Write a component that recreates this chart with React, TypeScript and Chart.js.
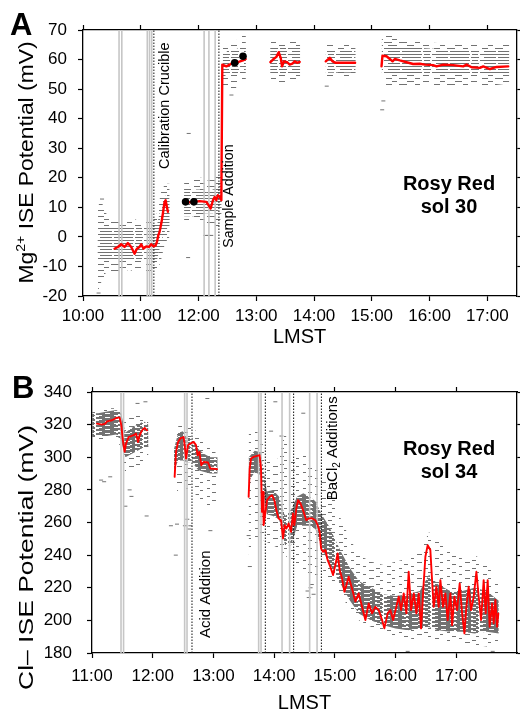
import React, { useEffect, useRef } from 'react';
import { Chart, registerables } from 'chart.js';

Chart.register(...registerables);

const FONT = '"Liberation Sans", Arial, Helvetica, sans-serif';
const X_TITLE = 'LMST';

// ================= Panel A : Mg2+ ISE, Rosy Red sol 30 =================
const A_X_TICKS = [10, 11, 12, 13, 14, 15, 16, 17];
const A_X_LABELS = ['10:00', '11:00', '12:00', '13:00', '14:00', '15:00', '16:00', '17:00'];
const A_Y_TICKS = [-20, -10, 0, 10, 20, 30, 40, 50, 60, 70];

// smoothed signal (red), [LMST hours, mV], null = gap
const A_RED: ([number, number] | null)[] = [
  [10.546, -4.0], [10.603, -3.4], [10.662, -2.5], [10.719, -3.4], [10.777, -2.1], [10.835, -3.4],
  [10.893, -5.7], [10.933, -4.0], [10.979, -3.4], [11.008, -2.5], [11.048, -4.0], [11.095, -3.2],
  [11.141, -3.4], [11.181, -2.5], [11.222, -3.2], [11.257, -2.9], [11.28, -1.7], [11.303, 0.5],
  [11.326, 1.7], [11.355, 4.5], [11.383, 7.9], [11.412, 11.8], [11.43, 12.4], [11.452, 10.2], [11.47, 8.5],
  null,
  [11.776, 11.85], [11.85, 11.7], [11.92, 11.85], [12.019, 12.1], [12.135, 11.85], [12.21, 9.6],
  [12.25, 12.4], [12.279, 13.5], [12.308, 12.4], [12.336, 14.1], [12.366, 13.5], [12.395, 12.4],
  [12.412, 58.3], [12.482, 57.7], [12.539, 58.3], [12.597, 58.9], [12.683, 59.1], [12.77, 59.7], [12.816, 60.2],
  null,
  [13.244, 59.1], [13.29, 60.0], [13.348, 60.9], [13.388, 62.5], [13.423, 60.6], [13.446, 57.7],
  [13.48, 59.4], [13.533, 59.1], [13.579, 58.3], [13.625, 58.6], [13.665, 59.4], [13.705, 58.9], [13.752, 59.2],
  null,
  [14.203, 59.4], [14.272, 60.6], [14.319, 59.4], [14.376, 58.9], [14.503, 58.9], [14.711, 58.9],
  null,
  [15.168, 57.7], [15.185, 61.3], [15.255, 61.1], [15.312, 60.2], [15.359, 59.4], [15.399, 60.2],
  [15.485, 59.7], [15.601, 59.1], [15.716, 58.5], [15.832, 58.6], [15.919, 58.3], [16.062, 58.1],
  [16.121, 57.7], [16.236, 58.3], [16.409, 58.1], [16.582, 57.7], [16.641, 58.3], [16.728, 57.4],
  [16.872, 57.2], [16.929, 57.7], [17.045, 56.8], [17.161, 57.5], [17.362, 57.7],
];

// black calibration points
const A_DOTS: [number, number][] = [[11.776, 11.85], [11.92, 11.85], [12.626, 58.9], [12.77, 61.1]];

// raw readings envelope: [t, outerLow, coreLow, coreHigh, outerHigh], null = gap
const A_CLOUD: (number[] | null)[] = [
  [10.25, -19, -6, 0, 9], [10.30, -16, -8, 3, 13], [10.40, -12, -8, 3.5, 8], [10.50, -12, -8, 3.5, 6],
  [10.60, -12, -8, 3.5, 6], [10.70, -12, -8, 3.5, 5], [10.80, -11, -8, 3.5, 6], [10.90, -12, -8, 3, 6],
  [11.00, -12, -8, 3, 5], [11.10, -12, -8, 3, 5], [11.20, -12, -8, 3, 5], [11.28, -12, -8, 4, 8],
  [11.35, -8, -2, 10, 15], [11.42, -2, 2, 14, 18], [11.50, 0, 4, 13, 18],
  null,
  [11.75, 5, 7, 16, 19], [11.85, 5, 7, 17, 20], [11.95, 5, 7, 16, 20], [12.05, 5, 8, 16, 20],
  [12.15, 4, 8, 15, 19], [12.25, 3, 8, 16, 20], [12.35, 3, 9, 17, 22], [12.40, 8, 10, 18, 22],
  null,
  [12.42, 50, 54, 61, 64], [12.50, 50, 55, 63, 65], [12.60, 49, 55, 63, 66], [12.70, 52, 55, 64, 67], [12.82, 52, 56, 64, 69],
  null,
  [13.24, 53, 55, 64, 66], [13.50, 52, 55, 64, 66], [13.76, 53, 55, 64, 66],
  null,
  [14.20, 54, 55.5, 63.5, 65], [14.46, 54, 55.5, 63.5, 65], [14.72, 54, 55.5, 63.5, 65],
  null,
  [15.17, 50, 55, 67, 69.5], [15.30, 51, 55, 66, 69], [15.50, 51, 55, 64, 66.5], [15.80, 51, 55, 64, 66],
  [16.20, 51, 55, 63.5, 65.5], [16.60, 51, 55, 63.5, 65.5], [17.00, 51, 55, 63.5, 65.5], [17.38, 52, 55, 63.5, 65],
];

// isolated raw readings
const A_STRAYS: [number, number][] = [
  [11.83, 35], [11.82, -7], [12.12, 0.5], [12.17, 0.5], [12.22, 0.5], [12.57, 48], [14.22, 51],
  [15.18, 43], [15.2, 46], [10.27, -19], [10.33, 12.8],
];

const A_GRAY_LINES = [10.624, 10.672, 11.113, 11.152, 11.19, 12.097, 12.18, 12.288];
const A_EVENT_LINES = [11.227, 12.353];
const A_EVENT_TEXT = ['Calibration Crucible', 'Sample Addition'];
const A_EVENT_MV = [44.4, 13.8];
const A_SITE = ['Rosy Red', 'sol 30'];

// ================= Panel B : Cl- ISE, Rosy Red sol 34 =================
const B_X_TICKS = [11, 12, 13, 14, 15, 16, 17];
const B_X_LABELS = ['11:00', '12:00', '13:00', '14:00', '15:00', '16:00', '17:00'];
const B_Y_TICKS = [180, 200, 220, 240, 260, 280, 300, 320, 340];

const B_RED: ([number, number] | null)[] = [
  [11.082, 320.6], [11.165, 320], [11.219, 320.6], [11.247, 322], [11.33, 322.7], [11.412, 324.3],
  [11.455, 324.3], [11.483, 319.6], [11.505, 311.5], [11.537, 303.3], [11.56, 308.4], [11.603, 312.4],
  [11.685, 313.5], [11.725, 314.5], [11.758, 309.4], [11.784, 313.5], [11.824, 316.5], [11.867, 318], [11.906, 316.5],
  null,
  [12.361, 288], [12.384, 303.3], [12.417, 309.4], [12.455, 311.5], [12.509, 312.4], [12.526, 307.4],
  [12.549, 299.2], [12.582, 307.4], [12.619, 308.4], [12.674, 309.4], [12.713, 307.4], [12.74, 301.2],
  [12.768, 303.3], [12.801, 295.1], [12.839, 297.1], [12.911, 296.8], [12.949, 293.1], [13.059, 292.7],
  null,
  [13.58, 275.7], [13.597, 293.1], [13.62, 299.2], [13.662, 300.2], [13.718, 300.8], [13.761, 301.2],
  [13.784, 293.1], [13.8, 266.5], [13.817, 278.8], [13.827, 258.4], [13.85, 264.5], [13.883, 273.7],
  [13.926, 275.7], [13.965, 276.7], [14.003, 273.7], [14.036, 267.6], [14.074, 262.5], [14.114, 261.4],
  [14.147, 250.2], [14.173, 258.4], [14.201, 256.3], [14.239, 259.4], [14.278, 254.3], [14.311, 265.5],
  [14.333, 258.4], [14.366, 268.6], [14.394, 273.7], [14.432, 271.7], [14.476, 267.6], [14.53, 261.4],
  [14.568, 262.5], [14.624, 262.5], [14.679, 261.4], [14.717, 258.4], [14.75, 254.3], [14.773, 244.1],
  [14.806, 242], [14.844, 243.1], [14.882, 236.9], [14.926, 232.8], [14.97, 227.8], [15.008, 233.9],
  [15.046, 241], [15.079, 230.8], [15.119, 225.7], [15.157, 217.5], [15.19, 221.6], [15.227, 226.8],
  [15.283, 219.6], [15.338, 211.5], [15.392, 216.5], [15.448, 208.3], [15.503, 200.2], [15.557, 210.4],
  [15.613, 204.3], [15.667, 208.3], [15.722, 206.3], [15.778, 200.2], [15.815, 195.1], [15.87, 204.3],
  [15.914, 206.3], [15.959, 200.2], [16.013, 208.3], [16.051, 214.5], [16.091, 206.3], [16.134, 216.5],
  [16.178, 204.3], [16.216, 229.8], [16.256, 206.3], [16.3, 216.5], [16.343, 204.3], [16.381, 216.5],
  [16.42, 195.1], [16.463, 222.7], [16.491, 239], [16.529, 246.1], [16.573, 243.1], [16.601, 224.7],
  [16.628, 208.3], [16.672, 220.6], [16.71, 208.3], [16.738, 224.7], [16.782, 208.3], [16.82, 216.5],
  [16.858, 200.2], [16.903, 216.5], [16.931, 197.1], [16.969, 214.5], [17.013, 206.3], [17.056, 222.7],
  [17.096, 204.3], [17.134, 192], [17.166, 208.3], [17.204, 220.6], [17.244, 206.3], [17.287, 214.5],
  [17.331, 229.8], [17.369, 214.5], [17.409, 200.2], [17.451, 224.7], [17.484, 204.3], [17.517, 224.7],
  [17.55, 196.1], [17.59, 210.4], [17.616, 198.2], [17.644, 212.5], [17.672, 196.1], [17.693, 204.3],
];

const B_CLOUD: (number[] | null)[] = [
  [11.00, 310, 313, 327, 329], [11.10, 309, 313, 327, 328], [11.25, 310, 313, 328, 330], [11.40, 312, 314, 329, 330],
  [11.48, 305, 310, 327, 329], [11.55, 290, 300, 315, 322], [11.65, 292, 302, 318, 325], [11.75, 295, 304, 320, 326],
  [11.85, 295, 306, 322, 326], [11.93, 298, 306, 320, 324],
  null,
  [12.35, 275, 292, 305, 312], [12.42, 280, 298, 315, 319], [12.50, 285, 298, 316, 320], [12.56, 280, 297, 312, 318],
  [12.65, 280, 297, 312, 318], [12.75, 275, 292, 305, 315], [12.85, 270, 291, 302, 310], [12.95, 268, 290, 300, 305],
  [13.07, 275, 290, 300, 302],
  null,
  [13.58, 240, 285, 300, 316], [13.68, 250, 291, 304, 318], [13.78, 250, 289, 303, 312], [13.88, 248, 265, 279, 300],
  [13.98, 246, 264, 280, 296], [14.08, 244, 262, 276, 300], [14.18, 240, 246, 264, 316], [14.28, 236, 246, 268, 298],
  [14.38, 232, 258, 276, 300], [14.48, 230, 258, 278, 305], [14.58, 225, 258, 276, 296], [14.68, 225, 256, 273, 295],
  [14.78, 232, 245, 265, 290], [14.90, 226, 235, 258, 285], [15.00, 222, 228, 250, 278], [15.10, 216, 222, 242, 262],
  [15.25, 206, 212, 232, 250], [15.40, 200, 204, 224, 240], [15.60, 196, 200, 220, 236], [15.80, 192, 197, 216, 234],
  [16.00, 190, 195, 215, 236], [16.20, 189, 194, 216, 238], [16.40, 188, 195, 218, 242], [16.55, 189, 196, 228, 254],
  [16.70, 188, 194, 222, 250], [16.90, 187, 193, 218, 242], [17.10, 186, 193, 218, 238], [17.30, 185, 192, 220, 240],
  [17.50, 184, 193, 218, 236], [17.70, 183, 192, 212, 222],
];

const B_STRAYS: [number, number][] = [
  [11.15, 286], [11.2, 285], [11.3, 288], [11.62, 280], [11.65, 276], [11.55, 270], [11.9, 264], [11.88, 334],
  [11.75, 333], [12.6, 256], [12.57, 262], [12.9, 336], [12.4, 259], [12.95, 255], [12.53, 258], [12.62, 258],
  [13.6, 233], [13.58, 252], [14.02, 334], [13.95, 316], [14.12, 313], [14.48, 327], [14.55, 218], [14.6, 220],
  [14.65, 216], [14.62, 222], [14.57, 214], [16.2, 181], [17.6, 181], [12.3, 258], [12.38, 240],
];

const B_GRAY_LINES = [11.478, 11.52, 12.526, 12.565, 13.745, 13.784, 14.13, 14.255, 14.585, 14.707];
const B_EVENT_LINES = [12.647, 13.855, 14.321, 14.778];
const B_SITE = ['Rosy Red', 'sol 34'];
const B_ACID_T = 12.647;
const B_ACID_MV = 216;
const B_BACL_T = 14.778;
const B_BACL_MV = 305.5;

// ======================================================================

type Part = { t: string; size: number; dy?: number; bold?: boolean };

function drawRotated(ctx: CanvasRenderingContext2D, parts: Part[], baseX: number, centerY: number, targetLen?: number) {
  ctx.save();
  ctx.translate(baseX, centerY);
  ctx.rotate(-Math.PI / 2);
  const widths = parts.map((p) => {
    ctx.font = `${p.bold ? 'bold ' : ''}${p.size}px ${FONT}`;
    return ctx.measureText(p.t).width;
  });
  const total = widths.reduce((a, b) => a + b, 0);
  if (targetLen) ctx.scale(targetLen / total, 1);
  ctx.textAlign = 'left';
  ctx.textBaseline = 'alphabetic';
  let x = -total / 2;
  parts.forEach((p, i) => {
    ctx.font = `${p.bold ? 'bold ' : ''}${p.size}px ${FONT}`;
    ctx.fillText(p.t, x, p.dy || 0);
    x += widths[i];
  });
  ctx.restore();
}

// texture tile: each row is [y, x0, len, x1, len, ...]
function makePattern(ctx: CanvasRenderingContext2D, w: number, h: number, rows: number[][], color: string) {
  const c = document.createElement('canvas');
  c.width = w;
  c.height = h;
  const g = c.getContext('2d')!;
  g.fillStyle = color;
  for (const r of rows) {
    const y = r[0];
    for (let i = 1; i + 1 < r.length; i += 2) {
      g.fillRect(r[i], y, r[i + 1], 1);
      g.fillRect(r[i] - w, y, r[i + 1], 1);
    }
  }
  return ctx.createPattern(c, 'repeat')!;
}

function splitRows<T>(rows: (T | null)[]): T[][] {
  const out: T[][] = [];
  let cur: T[] = [];
  for (const r of rows) {
    if (r === null) {
      if (cur.length) out.push(cur);
      cur = [];
    } else cur.push(r);
  }
  if (cur.length) out.push(cur);
  return out;
}

interface Panel {
  xMin: number; xMax: number; xTicks: number[]; xLabels: string[];
  yMin: number; yMax: number; yTicks: number[];
  red: ([number, number] | null)[]; redWidth: number;
  dots: [number, number][];
  cloud: (number[] | null)[];
  strays: [number, number][];
  grayLines: number[]; eventLines: number[];
  events: { parts: Part[]; t: number; v: number; dx: number }[];
  site: string[];
  leftW: number; topH: number; bottomH: number; rightW: number;
  yPad: number; xPad: number;
  letter: string; letterX: number; letterY: number;
  yTitle: Part[]; yTitleX: number; yTitleY: number; yTitleLen: number;
  xTitleY: number; siteX: number; siteY: number;
  corePat: number[][]; corePatSize: [number, number];
  outPat: number[][]; outPatSize: [number, number];
}

const PANEL_A: Panel = {
  xMin: 10, xMax: 17.5, xTicks: A_X_TICKS, xLabels: A_X_LABELS,
  yMin: -20, yMax: 70, yTicks: A_Y_TICKS,
  red: A_RED, redWidth: 2.4, dots: A_DOTS, cloud: A_CLOUD, strays: A_STRAYS,
  grayLines: A_GRAY_LINES, eventLines: A_EVENT_LINES,
  events: [
    { parts: [{ t: A_EVENT_TEXT[0], size: 14.5 }], t: A_EVENT_LINES[0], v: A_EVENT_MV[0], dx: 14.8 },
    { parts: [{ t: A_EVENT_TEXT[1], size: 14.2 }], t: A_EVENT_LINES[1], v: A_EVENT_MV[1], dx: 14.2 },
  ],
  site: A_SITE,
  leftW: 83, topH: 30, bottomH: 54, rightW: 3, yPad: 11, xPad: 5,
  letter: 'A', letterX: 10, letterY: 35,
  yTitle: [{ t: 'Mg', size: 21 }, { t: '2+', size: 13, dy: -8 }, { t: ' ISE Potential (mV)', size: 21 }],
  yTitleX: 33, yTitleY: 162.5, yTitleLen: 242,
  xTitleY: 343, siteX: 449, siteY: 190,
  corePat: [
    [0, 0, 21, 23, 15, 40, 6],
    [3, 4, 12, 18, 19, 39, 8],
  ],
  corePatSize: [48, 6],
  outPat: [
    [0, 2, 6, 15, 8, 31, 5],
    [3, 8, 5, 23, 7, 39, 6],
  ],
  outPatSize: [48, 6],
};

const PANEL_B: Panel = {
  xMin: 11, xMax: 18, xTicks: B_X_TICKS, xLabels: B_X_LABELS,
  yMin: 180, yMax: 340, yTicks: B_Y_TICKS,
  red: B_RED, redWidth: 1.9, dots: [], cloud: B_CLOUD, strays: B_STRAYS,
  grayLines: B_GRAY_LINES, eventLines: B_EVENT_LINES,
  events: [
    { parts: [{ t: 'Acid Addition', size: 15 }], t: B_ACID_T, v: B_ACID_MV, dx: 18.3 },
    { parts: [{ t: 'BaCl', size: 15 }, { t: '2', size: 10, dy: 3 }, { t: ' Additions', size: 15 }], t: B_BACL_T, v: B_BACL_MV, dx: 15.5 },
  ],
  site: B_SITE,
  leftW: 92, topH: 42, bottomH: 57, rightW: 3, yPad: 15, xPad: 8,
  letter: 'B', letterX: 12, letterY: 48,
  yTitle: [{ t: 'Cl\u2013 ISE Potential (mV)', size: 21 }],
  yTitleX: 33.3, yTitleY: 207.5, yTitleLen: 265,
  xTitleY: 359, siteX: 449, siteY: 105,
  corePat: [
    [0, 0, 22, 24, 15, 41, 5],
    [1, 6, 12, 25, 14, 44, 3],
    [2, 3, 17, 22, 12, 36, 10],
    [3, 0, 9, 14, 14, 34, 10],
  ],
  corePatSize: [48, 4],
  outPat: [
    [0, 3, 4, 27, 3],
    [2, 15, 3, 40, 4],
    [4, 8, 3, 33, 5],
    [6, 20, 4, 44, 3],
  ],
  outPatSize: [48, 8],
};

function buildConfig(p: Panel, ctx: CanvasRenderingContext2D): any {
  const GRAY = '#727272';
  const corePattern = makePattern(ctx, p.corePatSize[0], p.corePatSize[1], p.corePat, GRAY);
  const outPattern = makePattern(ctx, p.outPatSize[0], p.outPatSize[1], p.outPat, GRAY);
  const datasets: any[] = [];
  const base = { pointRadius: 0, pointHoverRadius: 0, tension: 0, fill: false };

  if (p.dots.length) {
    datasets.push({
      ...base, data: p.dots.map(([x, y]) => ({ x, y })), showLine: false,
      pointRadius: 3.8, pointBackgroundColor: '#000', pointBorderColor: '#000', pointBorderWidth: 0,
    });
  }
  for (const seg of splitRows(p.red)) {
    datasets.push({
      ...base, data: seg.map(([x, y]) => ({ x, y })), borderColor: '#ff0000', borderWidth: p.redWidth,
      borderJoinStyle: 'round', borderCapStyle: 'round',
    });
  }
  for (const t of p.eventLines) {
    datasets.push({
      ...base, data: [{ x: t, y: p.yMin }, { x: t, y: p.yMax }], borderColor: '#111', borderWidth: 1, borderDash: [1.5, 1.5],
    });
  }
  for (const t of p.grayLines) {
    datasets.push({
      ...base, data: [{ x: t, y: p.yMin }, { x: t, y: p.yMax }], borderColor: '#c6c6c6', borderWidth: 1.6,
    });
  }
  datasets.push({
    ...base, data: p.strays.map(([x, y]) => ({ x, y })), showLine: false,
    pointStyle: 'line', pointRadius: 2, pointBorderColor: GRAY, pointBorderWidth: 1,
  });
  const segs = splitRows(p.cloud);
  for (const seg of segs) {
    datasets.push({ ...base, data: seg.map((r) => ({ x: r[0], y: r[2] })), borderWidth: 0, borderColor: 'transparent' });
    datasets.push({ ...base, data: seg.map((r) => ({ x: r[0], y: r[3] })), borderWidth: 0, borderColor: 'transparent', fill: '-1', backgroundColor: corePattern });
  }
  for (const seg of segs) {
    datasets.push({ ...base, data: seg.map((r) => ({ x: r[0], y: r[1] })), borderWidth: 0, borderColor: 'transparent' });
    datasets.push({ ...base, data: seg.map((r) => ({ x: r[0], y: r[4] })), borderWidth: 0, borderColor: 'transparent', fill: '-1', backgroundColor: outPattern });
  }

  const grid = { drawOnChartArea: false, drawTicks: true, tickLength: 5, color: '#000', tickWidth: 1.2 };
  const border = { display: true, color: '#000', width: 1.3 };
  const xTicksBuild = (s: any) => { s.ticks = p.xTicks.map((v) => ({ value: v })); };
  const yTicksBuild = (s: any) => { s.ticks = p.yTicks.map((v) => ({ value: v })); };

  const textPlugin = {
    id: 'panelText' + p.letter,
    afterDraw(chart: any) {
      const c: CanvasRenderingContext2D = chart.ctx;
      const xs = chart.scales.x;
      const ys = chart.scales.y;
      const area = chart.chartArea;
      c.save();
      c.fillStyle = '#000';
      c.font = `bold 31px ${FONT}`;
      c.textAlign = 'left';
      c.textBaseline = 'alphabetic';
      c.fillText(p.letter, p.letterX, p.letterY);
      drawRotated(c, p.yTitle, p.yTitleX, p.yTitleY, p.yTitleLen);
      c.font = `20px ${FONT}`;
      c.textAlign = 'center';
      c.fillText(X_TITLE, (area.left + area.right) / 2, p.xTitleY);
      for (const ev of p.events) {
        drawRotated(c, ev.parts, xs.getPixelForValue(ev.t) + ev.dx, ys.getPixelForValue(ev.v));
      }
      c.font = `bold 20px ${FONT}`;
      c.textAlign = 'center';
      p.site.forEach((line, i) => c.fillText(line, p.siteX, p.siteY + i * 23));
      c.restore();
    },
  };

  return {
    type: 'line',
    data: { datasets },
    plugins: [textPlugin],
    options: {
      responsive: false,
      animation: false,
      events: [],
      layout: { padding: 0 },
      plugins: { legend: { display: false }, tooltip: { enabled: false } },
      scales: {
        x: {
          type: 'linear', position: 'bottom', min: p.xMin, max: p.xMax,
          afterBuildTicks: xTicksBuild,
          ticks: {
            autoSkip: false, maxRotation: 0, minRotation: 0, padding: p.xPad, color: '#000',
            font: { family: FONT, size: 17 },
            callback: (v: number) => { const i = p.xTicks.indexOf(v); return i >= 0 ? p.xLabels[i] : ''; },
          },
          grid, border,
          afterFit: (s: any) => { s.height = p.bottomH; },
        },
        x2: {
          type: 'linear', position: 'top', min: p.xMin, max: p.xMax,
          afterBuildTicks: xTicksBuild,
          ticks: { autoSkip: false, maxRotation: 0, callback: () => '' },
          grid, border,
          afterFit: (s: any) => { s.height = p.topH; },
        },
        y: {
          type: 'linear', position: 'left', min: p.yMin, max: p.yMax,
          afterBuildTicks: yTicksBuild,
          ticks: { autoSkip: false, padding: p.yPad, color: '#000', font: { family: FONT, size: 17 } },
          grid, border,
          afterFit: (s: any) => { s.width = p.leftW; },
        },
        y2: {
          type: 'linear', position: 'right', min: p.yMin, max: p.yMax,
          afterBuildTicks: yTicksBuild,
          ticks: { autoSkip: false, callback: () => '' },
          grid, border,
          afterFit: (s: any) => { s.width = p.rightW; },
        },
      },
    },
  };
}

export default function App() {
  const refA = useRef<HTMLCanvasElement>(null);
  const refB = useRef<HTMLCanvasElement>(null);

  useEffect(() => {
    const ca = refA.current!;
    const cb = refB.current!;
    const chartA = new Chart(ca, buildConfig(PANEL_A, ca.getContext('2d')!));
    const chartB = new Chart(cb, buildConfig(PANEL_B, cb.getContext('2d')!));
    return () => {
      chartA.destroy();
      chartB.destroy();
    };
  }, []);

  return (
    <div style={{ position: 'absolute', left: 0, top: 0, width: 520, height: 710, background: '#fff' }}>
      <canvas ref={refA} width={520} height={350} style={{ position: 'absolute', left: 0, top: 0, width: 520, height: 350 }} />
      <canvas ref={refB} width={520} height={360} style={{ position: 'absolute', left: 0, top: 350, width: 520, height: 360 }} />
    </div>
  );
}
